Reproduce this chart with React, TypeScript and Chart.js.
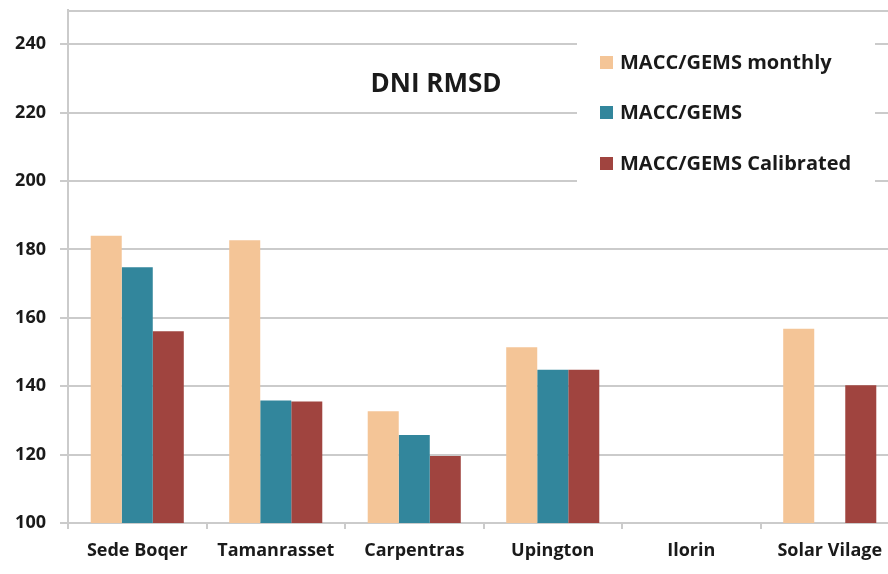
import React, { useEffect, useRef } from "react";
import { Chart, registerables } from "chart.js";

Chart.register(...registerables);

// Sites and RMSD values (W/m²) per product
const categories = ["Sede Boqer", "Tamanrasset", "Carpentras", "Upington", "Ilorin", "Solar Vilage"];
const maccMonthly: (number | null)[] = [184, 182.7, 132.7, 151.4, null, 156.8];
const maccGems: (number | null)[] = [174.8, 135.8, 125.7, 144.8, null, null];
const maccCalibrated: (number | null)[] = [156.1, 135.5, 119.6, 144.8, null, 140.3];
const yTicks = [100, 120, 140, 160, 180, 200, 220, 240];
const chartTitle = "DNI RMSD";

const COLORS = ["#F4C597", "#32869C", "#A0443F"];
const GRID = "#cbcbcb";
const TEXT = "#1a1a1a";
const FONT = "'Open Sans', 'DejaVu Sans', sans-serif";

const overlayPlugin = {
  id: "overlay",
  afterDraw(chart: any) {
    const ctx = chart.ctx;
    const area = chart.chartArea;
    ctx.save();
    // top border of the plot area
    ctx.strokeStyle = GRID;
    ctx.lineWidth = 2;
    ctx.beginPath();
    ctx.moveTo(area.left, area.top + 1);
    ctx.lineTo(area.right, area.top + 1);
    ctx.stroke();
    // title inside the plot
    ctx.fillStyle = TEXT;
    ctx.font = `bold 26px ${FONT}`;
    ctx.textAlign = "center";
    ctx.textBaseline = "middle";
    ctx.fillText(chartTitle, 436, 85);
    ctx.restore();
  },
  beforeDatasetsDraw(chart: any) {
    const ctx = chart.ctx;
    ctx.save();
    // legend panel
    ctx.fillStyle = "#ffffff";
    ctx.fillRect(577, 28, 298, 164);
    const rows = [62, 112, 163];
    ctx.font = `bold 20px ${FONT}`;
    ctx.textAlign = "left";
    ctx.textBaseline = "middle";
    chart.data.datasets.forEach((ds: any, i: number) => {
      ctx.fillStyle = ds.backgroundColor;
      ctx.fillRect(600, rows[i] - 6, 13, 13);
      ctx.fillStyle = TEXT;
      ctx.fillText(ds.label, 620, rows[i] + 1);
    });
    ctx.restore();
  },
};

export default function App() {
  const ref = useRef<HTMLCanvasElement>(null);
  useEffect(() => {
    if (!ref.current) return;
    const chart = new Chart(ref.current, {
      type: "bar",
      data: {
        labels: categories,
        datasets: [
          { label: "MACC/GEMS monthly", data: maccMonthly, backgroundColor: COLORS[0] },
          { label: "MACC/GEMS", data: maccGems, backgroundColor: COLORS[1] },
          { label: "MACC/GEMS Calibrated", data: maccCalibrated, backgroundColor: COLORS[2] },
        ],
      },
      options: {
        animation: false,
        responsive: false,
        layout: { padding: { top: 10, right: 1, left: 0, bottom: 0 } },
        datasets: { bar: { categoryPercentage: 0.672, barPercentage: 1, borderWidth: 0 } },
        plugins: { legend: { display: false }, title: { display: false }, tooltip: { enabled: false } },
        scales: {
          x: {
            grid: { drawOnChartArea: false, drawTicks: true, tickLength: 6, color: GRID, lineWidth: 2, offset: true },
            border: { display: true, color: GRID, width: 2 },
            ticks: { color: TEXT, font: { family: FONT, size: 18, weight: "bold" }, padding: 11, maxRotation: 0, autoSkip: false },
            afterFit: (scale: any) => { scale.height = 51; scale.paddingLeft = 0; scale.paddingRight = 0; },
          },
          y: {
            min: 100,
            max: 250,
            afterBuildTicks: (scale: any) => { scale.ticks = yTicks.map((v) => ({ value: v })); },
            grid: { color: GRID, lineWidth: 2, tickLength: 8 },
            border: { display: true, color: GRID, width: 2 },
            ticks: { color: TEXT, font: { family: FONT, size: 18, weight: "bold" }, padding: 14 },
            afterFit: (scale: any) => { scale.width = 68; scale.paddingTop = 0; scale.paddingBottom = 0; },
          },
        },
      },
      plugins: [overlayPlugin],
    });
    return () => chart.destroy();
  }, []);
  return (
    <div style={{ position: "absolute", left: 0, top: 0, width: 888, height: 574, overflow: "hidden", background: "#fff" }}>
      <canvas ref={ref} width={900} height={574} style={{ width: 900, height: 574, display: "block" }} />
    </div>
  );
}
